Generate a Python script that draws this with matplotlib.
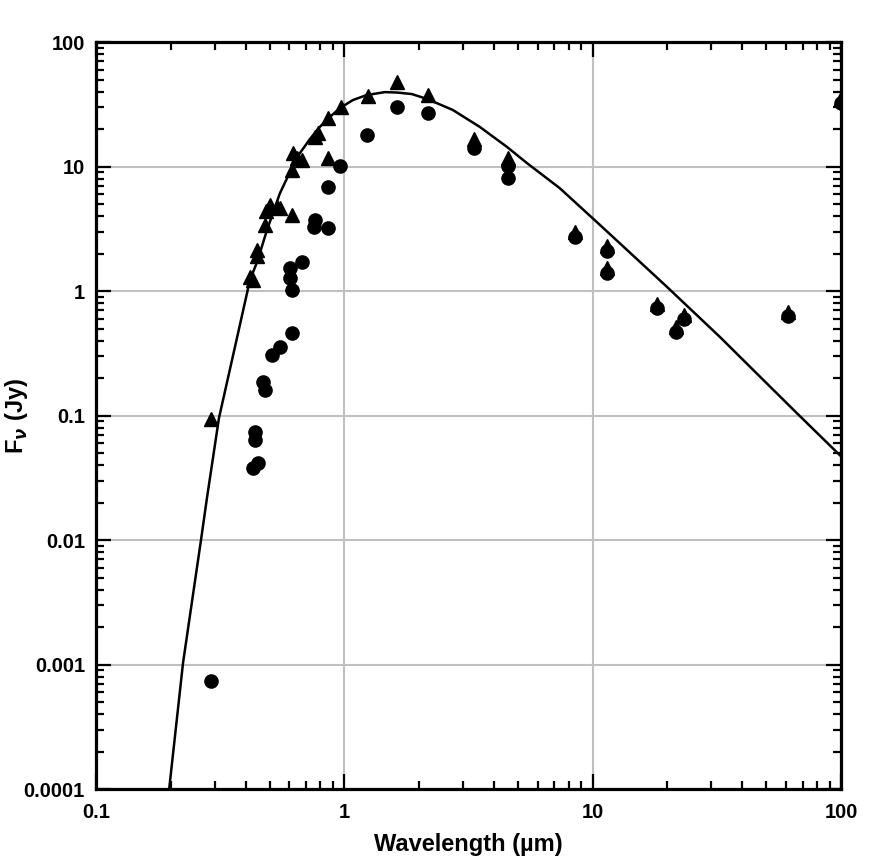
import matplotlib
matplotlib.use("Agg")
import matplotlib.pyplot as plt
from matplotlib.ticker import LogLocator, NullFormatter, FixedLocator, FixedFormatter

plt.rcParams['font.family'] = ['Liberation Sans', 'DejaVu Sans']
plt.rcParams['font.weight'] = 'bold'
plt.rcParams['mathtext.fontset'] = 'custom'
plt.rcParams['mathtext.rm'] = 'Liberation Sans'

# photometry (wavelength in micron, flux in Jy)
tri_wave = [0.290, 0.417, 0.428, 0.445, 0.445, 0.479, 0.483, 0.501, 0.535, 0.550,
            0.615, 0.621, 0.615, 0.644, 0.675, 0.761, 0.782, 0.859, 0.859, 0.968,
            1.243, 1.627, 2.168, 3.32, 4.55, 8.47, 11.38, 11.38, 18.1, 21.6,
            23.2, 60.9, 100.0]
tri_flux = [0.0937, 1.295, 1.226, 2.135, 1.91, 3.39, 4.39, 4.91, 4.73, 4.64,
            4.08, 12.8, 9.37, 11.7, 11.3, 17.3, 18.6, 24.5, 11.7, 30.0,
            36.8, 47.7, 37.5, 16.6, 11.7, 2.98, 2.30, 1.53, 0.786, 0.514,
            0.642, 0.678, 35.5]

circ_wave = [0.290, 0.428, 0.449, 0.436, 0.436, 0.470, 0.479, 0.511, 0.550, 0.615,
             0.604, 0.604, 0.615, 0.675, 0.761, 0.754, 0.859, 0.859, 0.959, 1.232,
             1.627, 2.168, 3.32, 4.55, 4.55, 8.47, 11.38, 11.38, 18.1, 21.6,
             23.2, 60.9, 100.0]
circ_flux = [7.37e-4, 0.0379, 0.0416, 0.0636, 0.0737, 0.186, 0.160, 0.306, 0.355, 0.460,
             1.27, 1.53, 1.02, 1.71, 3.72, 3.27, 3.21, 6.84, 10.1, 17.9,
             30.0, 26.9, 14.1, 8.08, 10.1, 2.71, 2.10, 1.39, 0.730, 0.469,
             0.596, 0.630, 32.4]

# model curve
model_wave = [0.197, 0.224, 0.2646, 0.2797, 0.3126, 0.3625, 0.4166, 0.445, 0.488,
              0.550, 0.604, 0.662, 0.726, 0.796, 0.874, 0.96, 1.082, 1.23, 1.455,
              1.63, 1.87, 2.15, 2.73, 3.51, 4.51, 5.42, 7.36, 10.7, 19.9,
              32.5, 66.2, 100.0]
model_flux = [1.0e-4, 1.03e-3, 0.010, 0.0218, 0.0955, 0.355, 1.226, 1.71, 3.09,
              6.1, 9.04, 12.8, 16.6, 20.8, 25.0, 29.5, 34.2, 37.5, 39.6,
              39.3, 38.2, 34.9, 28.5, 20.8, 14.4, 10.7, 6.71, 3.39, 1.08,
              0.428, 0.105, 0.047]

fig = plt.figure(figsize=(8.86, 8.63), dpi=100)
ax = fig.add_axes([0.1084, 0.0857, 0.8409, 0.8656])

ax.plot(model_wave, model_flux, color='black', lw=1.8, zorder=3,
        solid_joinstyle='round')
ax.plot(tri_wave, tri_flux, '^', color='black', ms=10.5, zorder=4)
ax.plot(circ_wave, circ_flux, 'o', color='black', ms=9.5, zorder=4)

ax.set_xscale('log')
ax.set_yscale('log')
ax.set_xlim(0.1, 100)
ax.set_ylim(1e-4, 100)

xt = [0.1, 1, 10, 100]
ax.xaxis.set_major_locator(FixedLocator(xt))
ax.xaxis.set_major_formatter(FixedFormatter(['0.1', '1', '10', '100']))
yt = [1e-4, 1e-3, 1e-2, 1e-1, 1, 10, 100]
ax.yaxis.set_major_locator(FixedLocator(yt))
ax.yaxis.set_major_formatter(FixedFormatter(['0.0001', '0.001', '0.01', '0.1', '1', '10', '100']))
for a in (ax.xaxis, ax.yaxis):
    a.set_minor_locator(LogLocator(base=10, subs=range(2, 10), numticks=20))
    a.set_minor_formatter(NullFormatter())

ax.grid(True, which='major', color='#c0c0c0', lw=1.5, zorder=0)
ax.set_axisbelow(True)

ax.tick_params(which='both', direction='in', top=True, right=True, width=1.6,
               labelsize=14.5)
ax.tick_params(which='major', length=11)
ax.tick_params(which='minor', length=5.5)
ax.tick_params(axis='x', pad=10)
ax.tick_params(axis='y', pad=8)
for s in ax.spines.values():
    s.set_linewidth(2.3)

ax.set_xlabel('Wavelength (\u00b5m)', fontsize=17, fontweight='bold', labelpad=8)
ax.set_ylabel(r'F$_{\nu}$ (Jy)', fontsize=17, fontweight='bold')
ax.yaxis.set_label_coords(-0.088, 0.5)

fig.savefig('out.png', dpi=100)
